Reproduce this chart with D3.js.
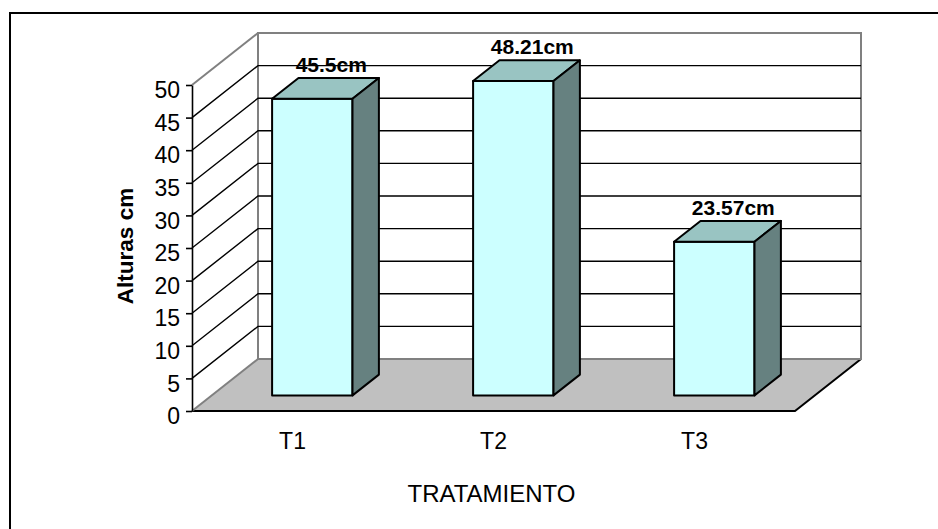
<!DOCTYPE html>
<html>
<head>
<meta charset="utf-8">
<script src="https://cdn.jsdelivr.net/npm/d3@7"></script>
<style>
  html, body { margin: 0; padding: 0; background: #fff; }
  svg { display: block; font-family: Arial, "Liberation Sans", sans-serif; }
</style>
</head>
<body>
<svg id="chart" width="938" height="529"></svg>
<script>
// Average plant height per treatment
const categories = ["T1", "T2", "T3"];
const heights = [45.5, 48.21, 23.57];
const yTicks = [0, 5, 10, 15, 20, 25, 30, 35, 40, 45, 50];
const yTitle = "Alturas cm";
const xTitle = "TRATAMIENTO";

const svg = d3.select("#chart");
const fontFamily = "Arial, 'Liberation Sans', sans-serif";

// Front plane of the 3-D box
const frontLeft = 192, frontRight = 795;
const depthX = 66, depthY = -52;          // offset from front plane to back wall
const barDepth = [0.3, 0.7];              // bar occupies the middle of the depth

const y = d3.scaleLinear().domain([0, 50]).range([411, 85]);
const x = d3.scaleBand().domain(categories).range([frontLeft, frontRight]);

// projection: front-plane x, value, depth fraction -> screen point
const P = (px, v, d) => [px + depthX * d, y(v) + depthY * d];
const poly = pts => "M" + pts.map(p => p.join(",")).join("L") + "Z";

// outer chart frame
svg.append("rect")
  .attr("x", 10).attr("y", 13).attr("width", 960).attr("height", 560)
  .attr("fill", "none").attr("stroke", "#000").attr("stroke-width", 2);

const gray = "#808080";

// floor
svg.append("path")
  .attr("d", poly([P(frontLeft, 0, 0), P(frontRight, 0, 0), P(frontRight, 0, 1), P(frontLeft, 0, 1)]))
  .attr("fill", "#c0c0c0").attr("stroke", "none");
svg.append("path")
  .attr("d", "M" + P(frontLeft, 0, 1) + "L" + P(frontRight, 0, 1))
  .attr("stroke", gray).attr("stroke-width", 2).attr("fill", "none");
svg.append("path")
  .attr("d", "M" + P(frontLeft, 0, 0) + "L" + P(frontRight, 0, 0) + "L" + P(frontRight, 0, 1))
  .attr("stroke", "#000").attr("stroke-width", 2).attr("fill", "none");

// side wall (left) and back wall
svg.append("path")
  .attr("d", poly([P(frontLeft, 0, 0), P(frontLeft, 50, 0), P(frontLeft, 50, 1), P(frontLeft, 0, 1)]))
  .attr("fill", "#fff").attr("stroke", "none");
svg.append("path")
  .attr("d", poly([P(frontLeft, 0, 1), P(frontLeft, 50, 1), P(frontRight, 50, 1), P(frontRight, 0, 1)]))
  .attr("fill", "#fff").attr("stroke", gray).attr("stroke-width", 2);
svg.append("path")
  .attr("d", "M" + P(frontLeft, 0, 0) + "L" + P(frontLeft, 0, 1))
  .attr("stroke", gray).attr("stroke-width", 2);
svg.append("path")
  .attr("d", "M" + P(frontLeft, 50, 0) + "L" + P(frontLeft, 50, 1))
  .attr("stroke", gray).attr("stroke-width", 2);

// value labels above each bar
const labelG = svg.append("g");
labelG.selectAll("text")
  .data(heights)
  .join("text")
  .attr("x", (d, i) => P(x(categories[i]) + x.bandwidth() / 2, d, barDepth[0])[0] + 19)
  .attr("y", (d, i) => P(0, d, barDepth[0])[1] - 27)
  .attr("text-anchor", "middle")
  .attr("font-size", 21).attr("font-weight", "bold")
  .attr("fill", "#000")
  .text(d => d + "cm");

// gridlines on side and back walls
const gridVals = yTicks.filter(v => v > 0 && v < 50);
svg.append("g").selectAll("path")
  .data(gridVals)
  .join("path")
  .attr("d", v => "M" + P(frontLeft, v, 0) + "L" + P(frontLeft, v, 1) + "L" + P(frontRight, v, 1))
  .attr("fill", "none").attr("stroke", "#000").attr("stroke-width", 1.4);

// bars
const barW = x.bandwidth() * 0.4;
const bars = svg.append("g").selectAll("g")
  .data(heights)
  .join("g");
bars.each(function (v, i) {
  const g = d3.select(this);
  const c = x(categories[i]) + x.bandwidth() / 2;
  const l = c - barW / 2, r = c + barW / 2;
  const [d0, d1] = barDepth;
  g.append("path")
    .attr("d", poly([P(l, 0, d0), P(r, 0, d0), P(r, v, d0), P(l, v, d0)]))
    .attr("fill", "#ccffff");
  g.append("path")
    .attr("d", poly([P(l, v, d0), P(r, v, d0), P(r, v, d1), P(l, v, d1)]))
    .attr("fill", "#99c4c2");
  g.append("path")
    .attr("d", poly([P(r, 0, d0), P(r, v, d0), P(r, v, d1), P(r, 0, d1)]))
    .attr("fill", "#668180");
  g.selectAll("path")
    .attr("stroke", "#000").attr("stroke-width", 2).attr("stroke-linejoin", "round");
});

// value axis
const yAxis = svg.append("g")
  .attr("transform", `translate(${frontLeft},0)`)
  .call(d3.axisLeft(y).tickValues(yTicks).tickSize(6).tickSizeOuter(0).tickPadding(6));
yAxis.select(".domain").attr("stroke", "#000").attr("stroke-width", 1.6);
yAxis.selectAll(".tick line").attr("stroke", "#000").attr("stroke-width", 1.6);
yAxis.selectAll(".tick text")
  .attr("font-size", 23).attr("font-family", fontFamily).attr("fill", "#000")
  .attr("dy", "0.55em");

// category axis
const xAxis = svg.append("g")
  .attr("transform", `translate(0,${y(0)})`)
  .call(d3.axisBottom(x).tickSize(0).tickPadding(22));
xAxis.select(".domain").remove();
xAxis.selectAll(".tick text")
  .attr("font-size", 23).attr("font-family", fontFamily).attr("fill", "#000");

// axis titles
svg.append("text")
  .attr("transform", "translate(133,246) rotate(-90)")
  .attr("text-anchor", "middle")
  .attr("font-size", 22.5).attr("font-weight", "bold")
  .text(yTitle);
svg.append("text")
  .attr("x", (frontLeft + frontRight) / 2 - 2).attr("y", 502)
  .attr("text-anchor", "middle")
  .attr("font-size", 24)
  .text(xTitle);
</script>
</body>
</html>
